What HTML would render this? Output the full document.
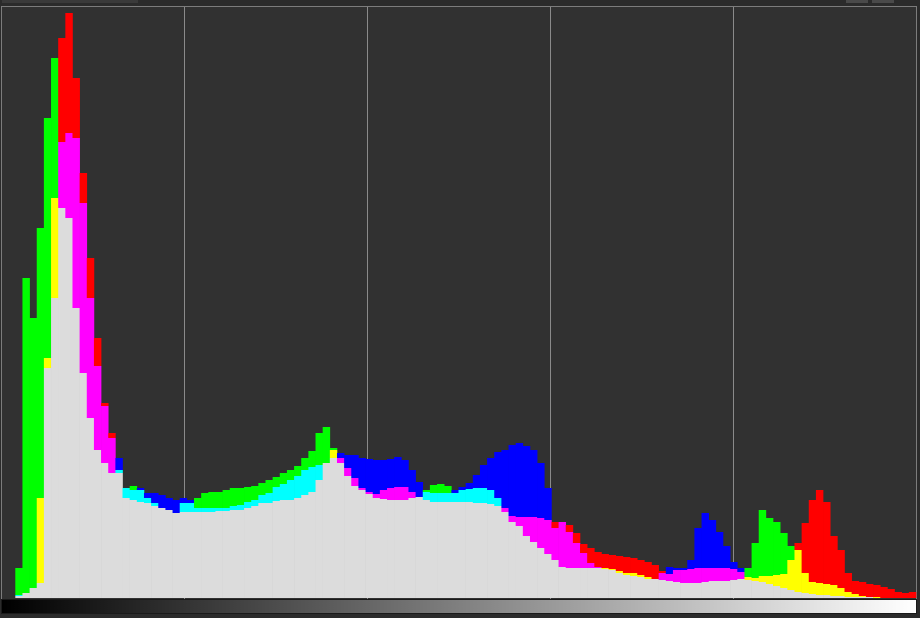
<!DOCTYPE html>
<html><head><meta charset="utf-8"><style>
html,body{margin:0;padding:0;background:#2b2b2b;width:920px;height:618px;overflow:hidden;font-family:"Liberation Sans",sans-serif}
svg{display:block}
</style></head><body>
<svg id="chart" width="920" height="618" viewBox="0 0 920 618" xmlns="http://www.w3.org/2000/svg">
<defs><linearGradient id="gr" x1="0" x2="1" y1="0" y2="0"><stop offset="0" stop-color="#000"/><stop offset="1" stop-color="#fff"/></linearGradient></defs>
<rect x="0" y="0" width="920" height="618" fill="#2b2b2b"/>
<rect x="2" y="0" width="136" height="3" fill="#3a3a3a"/>
<rect x="846" y="0" width="22" height="3" fill="#4a4a4a"/>
<rect x="872" y="0" width="22" height="3" fill="#4a4a4a"/>
<rect x="1.5" y="6.5" width="915" height="593" fill="#313131" stroke="#7c7c7c"/>
<g id="grid"></g>
<g id="bars"></g>
<rect x="2" y="600" width="914" height="13" fill="url(#gr)"/>
<rect x="1.5" y="599.5" width="915" height="14" fill="none" stroke="#1a1a1a"/>
</svg>
<script>
const redValues=[0,0,2,5,10,100,240,400,560,585,520,425,340,260,195,165,125,100,98,96,95,92,90,88,85,86,86,86,86,86,87,87,88,88,90,92,95,95,97,98,98,100,103,106,118,135,148,140,130,120,110,106,104,108,110,111,111,106,101,98,96,96,96,96,96,96,95,95,94,92,90,82,81,81,81,80,78,76,76,73,65,54,50,46,44,43,42,41,40,38,36,33,27,24,28,28,29,30,30,30,30,30,29,26,21,20,22,22,23,24,38,55,75,98,108,96,62,48,25,17,16,14,13,11,9,6,5,6];
const greenValues=[0,0,30,320,280,370,480,540,390,380,290,225,180,148,135,125,128,110,112,108,100,95,90,88,85,95,95,100,105,106,106,108,110,110,111,112,115,118,121,125,128,132,140,147,165,171,150,135,122,112,108,104,100,99,98,98,98,100,101,108,113,114,112,105,108,109,110,110,108,100,86,76,72,62,56,50,44,38,31,30,30,30,30,30,30,29,27,25,25,23,21,19,18,17,16,15,15,15,16,17,17,17,18,19,30,55,88,80,76,65,52,48,25,16,15,14,13,10,6,4,2,1,1,0,0,0,0,0];
const blueValues=[0,0,3,5,10,15,230,300,456,465,460,395,300,232,192,160,140,110,108,110,105,105,103,100,98,100,98,90,90,90,90,90,92,93,96,98,103,105,111,114,118,122,128,131,133,135,140,145,143,143,140,139,138,138,139,141,138,128,116,106,105,105,105,108,111,115,123,133,140,146,148,153,155,152,148,135,110,70,76,66,55,45,35,31,29,28,25,23,22,21,19,19,25,31,30,30,38,70,85,78,66,52,36,30,18,17,16,14,12,10,8,6,5,4,3,3,2,2,1,1,1,1,0,0,0,0,0,0];
const gridTicks=[0.25,0.5,0.75];
const NS='http://www.w3.org/2000/svg';
const X0=1,X1=916,Y0=598,YMAX=591,PLOTH=591;
const nb=redValues.length;
function xScale(i){return X0+i*(X1-X0)/nb;}
function yScale(v){return Y0-v*PLOTH/YMAX;}
const grid=document.getElementById('grid');
[0.2,0.4,0.6,0.8].forEach(f=>{
  const l=document.createElementNS(NS,'line');
  const x=Math.round(X0+f*(X1-X0))+0.5;
  l.setAttribute('x1',x);l.setAttribute('x2',x);l.setAttribute('y1',7);l.setAttribute('y2',599);
  l.setAttribute('stroke','#8a8a8a');l.setAttribute('stroke-width','1');
  
  
  grid.appendChild(l);
});
const bars=document.getElementById('bars');
const single={r:'#ff0000',g:'#00ff00',b:'#0000ff'};
const pair={rg:'#ffff00',gr:'#ffff00',rb:'#ff00ff',br:'#ff00ff',gb:'#00ffff',bg:'#00ffff'};
function seg(x,w,v1,v2,color,name){
  if(v2<=v1)return;
  const r=document.createElementNS(NS,'rect');
  const ya=yScale(v2),yb=yScale(v1);
  r.setAttribute('x',x.toFixed(2));r.setAttribute('width',(w+0.3).toFixed(2));
  r.setAttribute('y',ya.toFixed(2));r.setAttribute('height',(yb-ya).toFixed(2));
  r.setAttribute('fill',color);
  
  
  bars.appendChild(r);
}
for(let i=0;i<nb;i++){
  const ch=[['r',redValues[i]],['g',greenValues[i]],['b',blueValues[i]]].sort((a,b)=>a[1]-b[1]);
  const x=xScale(i),w=xScale(i+1)-xScale(i);
  seg(x,w,0,ch[0][1],'#dcdcdc','bin-overlap-all');
  seg(x,w,ch[0][1],ch[1][1],pair[ch[1][0]+ch[2][0]],'bin-overlap-pair');
  seg(x,w,ch[1][1],ch[2][1],single[ch[2][0]],'bin-single-channel');
}
</script>
</body></html>
